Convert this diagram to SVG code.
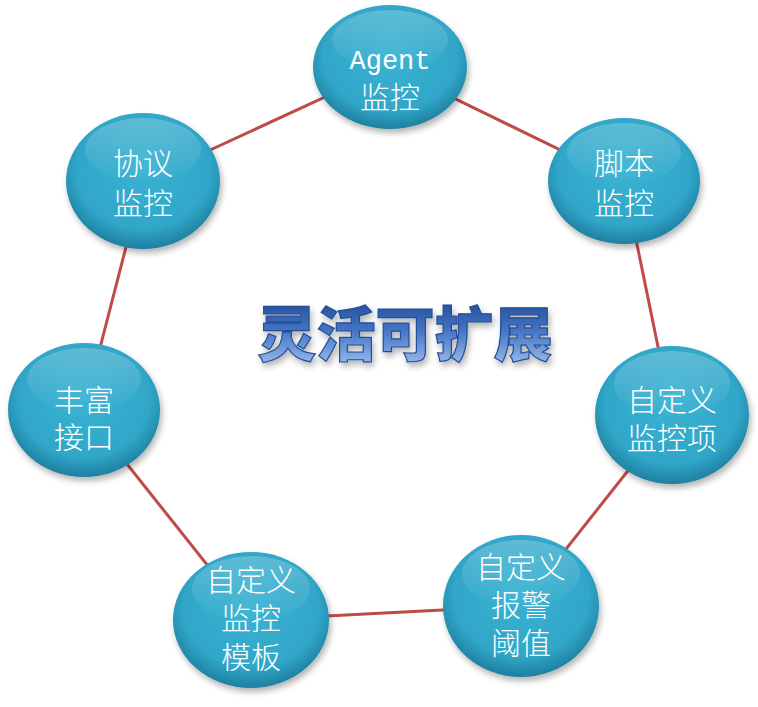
<svg xmlns="http://www.w3.org/2000/svg" width="758" height="707" viewBox="0 0 758 707">
<defs>
<radialGradient id="ball" cx="50%" cy="42%" r="58%">
<stop offset="0" stop-color="#3ab3d3"/>
<stop offset="0.75" stop-color="#30a6c8"/>
<stop offset="1" stop-color="#1f7f9f"/>
</radialGradient>
<linearGradient id="gloss" x1="0" y1="0" x2="0" y2="1">
<stop offset="0" stop-color="#ffffff" stop-opacity="0.22"/>
<stop offset="1" stop-color="#ffffff" stop-opacity="0"/>
</linearGradient>
<linearGradient id="titleg" x1="0" y1="0" x2="0" y2="1">
<stop offset="0" stop-color="#163f8a"/>
<stop offset="0.5" stop-color="#4474c4"/>
<stop offset="1" stop-color="#aecbf4"/>
</linearGradient>
<filter id="sh" x="-20%" y="-20%" width="140%" height="140%">
<feGaussianBlur in="SourceAlpha" stdDeviation="3"/>
<feOffset dx="2" dy="4" result="b"/>
<feComponentTransfer><feFuncA type="linear" slope="0.3"/></feComponentTransfer>
<feMerge><feMergeNode/><feMergeNode in="SourceGraphic"/></feMerge>
</filter>
</defs>
<style>
.conn line{stroke:#be4b48;stroke-width:3}
.ball{fill:url(#ball)}
.gl{fill:url(#gloss)}
.t{fill:#ffffff;font-family:"Noto Sans CJK SC","Liberation Serif",serif;font-size:30px;font-weight:300;text-anchor:middle}
.m{font-family:"Liberation Mono","Noto Sans CJK SC",monospace;font-size:27px}
.title{font-family:"Noto Sans CJK SC",sans-serif;font-size:59px;font-weight:900;fill:url(#titleg);text-anchor:middle;stroke:#234e98;stroke-width:1.2}
</style>
<rect width="758" height="707" fill="#ffffff"/>
<g class="conn">
<line x1="390" y1="67" x2="624" y2="181"/>
<line x1="624" y1="181" x2="672" y2="415"/>
<line x1="672" y1="415" x2="521" y2="606"/>
<line x1="521" y1="606" x2="251" y2="620"/>
<line x1="251" y1="620" x2="84" y2="410"/>
<line x1="84" y1="410" x2="143" y2="181"/>
<line x1="143" y1="181" x2="390" y2="67"/>
</g>
<g id="title" filter="url(#sh)"><text class="title" x="405" y="356">灵活可扩展</text></g>
<g id="n-agent">
<ellipse class="ball" cx="390" cy="67" rx="77" ry="62" filter="url(#sh)"/>
<ellipse class="gl" cx="390" cy="40" rx="58" ry="30"/>
<text class="t m" x="390" y="69">Agent</text>
<text class="t" x="390" y="108">监控</text>
</g>
<g id="n-script">
<ellipse class="ball" cx="624" cy="181" rx="76" ry="63" filter="url(#sh)"/>
<ellipse class="gl" cx="624" cy="153" rx="57" ry="30"/>
<text class="t" x="624" y="174">脚本</text>
<text class="t" x="624" y="214">监控</text>
</g>
<g id="n-item">
<ellipse class="ball" cx="672" cy="415" rx="77" ry="69" filter="url(#sh)"/>
<ellipse class="gl" cx="672" cy="384" rx="58" ry="33"/>
<text class="t" x="672" y="411">自定义</text>
<text class="t" x="672" y="449">监控项</text>
</g>
<g id="n-alarm">
<ellipse class="ball" cx="521" cy="606" rx="78" ry="71" filter="url(#sh)"/>
<ellipse class="gl" cx="521" cy="574" rx="59" ry="34"/>
<text class="t" x="521" y="578">自定义</text>
<text class="t" x="521" y="616">报警</text>
<text class="t" x="521" y="654">阈值</text>
</g>
<g id="n-template">
<ellipse class="ball" cx="251" cy="620" rx="78" ry="68" filter="url(#sh)"/>
<ellipse class="gl" cx="251" cy="589" rx="59" ry="33"/>
<text class="t" x="251" y="591">自定义</text>
<text class="t" x="251" y="629">监控</text>
<text class="t" x="251" y="668">模板</text>
</g>
<g id="n-api">
<ellipse class="ball" cx="84" cy="410" rx="76" ry="67" filter="url(#sh)"/>
<ellipse class="gl" cx="84" cy="380" rx="57" ry="32"/>
<text class="t" x="84" y="411">丰富</text>
<text class="t" x="84" y="448">接口</text>
</g>
<g id="n-proto">
<ellipse class="ball" cx="143" cy="181" rx="77" ry="68" filter="url(#sh)"/>
<ellipse class="gl" cx="143" cy="150" rx="58" ry="32"/>
<text class="t" x="143" y="174">协议</text>
<text class="t" x="143" y="214">监控</text>
</g>
</svg>
